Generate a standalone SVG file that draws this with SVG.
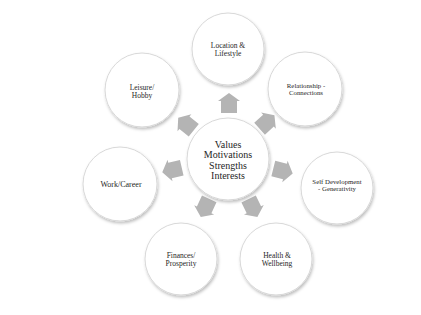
<svg xmlns="http://www.w3.org/2000/svg" width="421" height="315" viewBox="0 0 421 315">
<defs>
<filter id="sh" x="-20%" y="-20%" width="150%" height="150%">
<feDropShadow dx="1" dy="2" stdDeviation="1.5" flood-color="#000" flood-opacity="0.25"/>
</filter>
<polygon id="arr" points="0,-10 11,-2 8,-2 8,10 -8,10 -8,-2 -11,-2"/>
</defs>
<style>
.c{fill:#fff;stroke:#d8d8d8;stroke-width:1;filter:url(#sh)}
.t{font-family:"Liberation Serif","DejaVu Serif",serif;fill:#262626;text-anchor:middle}
.a{fill:#b4b4b4}
</style>
<rect width="421" height="315" fill="#fff"/>
<g id="connectors">
<use href="#arr" class="a" transform="translate(229,103) rotate(0)"/>
<use href="#arr" class="a" transform="translate(267,122) rotate(48)"/>
<use href="#arr" class="a" transform="translate(283,171) rotate(104)"/>
<use href="#arr" class="a" transform="translate(253,208) rotate(154)"/>
<use href="#arr" class="a" transform="translate(205,208) rotate(205)"/>
<use href="#arr" class="a" transform="translate(172,170) rotate(257)"/>
<use href="#arr" class="a" transform="translate(186,124) rotate(309)"/>
</g>
<g id="center">
<circle class="c" cx="228" cy="159" r="41"/>
<text class="t" font-size="10"><tspan x="228" y="147.5">Values</tspan><tspan x="228" y="158">Motivations</tspan><tspan x="228" y="168.5">Strengths</tspan><tspan x="228" y="179">Interests</tspan></text>
</g>
<g id="location">
<circle class="c" cx="228" cy="49" r="36"/>
<text class="t" font-size="7.5"><tspan x="228" y="47.5">Location &amp;</tspan><tspan x="228" y="56">Lifestyle</tspan></text>
</g>
<g id="relationship">
<circle class="c" cx="305" cy="89" r="37"/>
<text class="t" font-size="6.8"><tspan x="306" y="87.5">Relationship -</tspan><tspan x="306" y="94.5">Connections</tspan></text>
</g>
<g id="selfdev">
<circle class="c" cx="337" cy="188" r="36"/>
<text class="t" font-size="6.8"><tspan x="337" y="183.5">Self Development</tspan><tspan x="337" y="190.5">- Generativity</tspan></text>
</g>
<g id="health">
<circle class="c" cx="276" cy="259" r="36"/>
<text class="t" font-size="7.5"><tspan x="277" y="257.5">Health &amp;</tspan><tspan x="277" y="266">Wellbeing</tspan></text>
</g>
<g id="finances">
<circle class="c" cx="181" cy="259" r="36"/>
<text class="t" font-size="7.5"><tspan x="181" y="257.5">Finances/</tspan><tspan x="181" y="266">Prosperity</tspan></text>
</g>
<g id="work">
<circle class="c" cx="120" cy="184" r="37"/>
<text class="t" font-size="8"><tspan x="121" y="186.5">Work/Career</tspan></text>
</g>
<g id="leisure">
<circle class="c" cx="142" cy="90" r="37"/>
<text class="t" font-size="7.5"><tspan x="142" y="89.5">Leisure/</tspan><tspan x="142" y="98">Hobby</tspan></text>
</g>
</svg>
